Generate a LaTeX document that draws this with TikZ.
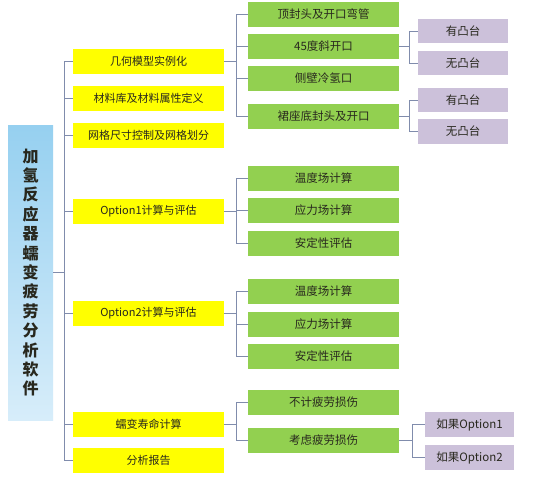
\documentclass[tikz,border=0pt]{standalone}
\usepackage{fontspec}
\setmainfont{Noto Sans CJK SC}
\usetikzlibrary{calc}
\definecolor{lnc}{RGB}{128,140,172}
\definecolor{yel}{RGB}{255,255,0}
\definecolor{grn}{RGB}{146,208,80}
\definecolor{pur}{RGB}{204,193,218}
\definecolor{txt}{RGB}{40,40,30}
\tikzset{
  ybox/.style={fill=yel, minimum width=151pt, minimum height=25pt, inner sep=0pt, font=\fontsize{11}{13}\selectfont, text=txt},
  gbox/.style={fill=grn, minimum width=151pt, minimum height=25pt, inner sep=0pt, font=\fontsize{11.5}{13}\selectfont, text=txt},
  pbox/.style={fill=pur, minimum width=90pt, minimum height=24.5pt, inner sep=0pt, font=\fontsize{11.5}{13}\selectfont, text=txt},
  conn/.style={draw=lnc, line width=0.9pt},
}
\begin{document}
\begin{tikzpicture}[x=1pt,y=-1pt]
\useasboundingbox[fill=white] (0,0) rectangle (533,480);
% root
\node[top color={rgb,255:red,150;green,208;blue,240}, bottom color={rgb,255:red,215;green,237;blue,250}, minimum width=45pt, minimum height=295pt, inner sep=0pt,
  align=center, font=\fontsize{16}{19.4}\selectfont\bfseries, text=txt] (root) at (30.5,272.5)
  {加\\氢\\反\\应\\器\\蠕\\变\\疲\\劳\\分\\析\\软\\件};
% yellow
\node[ybox] (y1) at (148.5,61) {几何模型实例化};
\node[ybox] (y2) at (148.5,98.5) {材料库及材料属性定义};
\node[ybox] (y3) at (148.5,135.5) {网格尺寸控制及网格划分};
\node[ybox] (y4) at (148.5,211.5) {Option1计算与评估};
\node[ybox] (y5) at (148.5,313) {Option2计算与评估};
\node[ybox] (y6) at (148.5,424.5) {蠕变寿命计算};
\node[ybox] (y7) at (148.5,460.5) {分析报告};
% green group 1
\node[gbox] (g11) at (323.5,14.5) {顶封头及开口弯管};
\node[gbox] (g12) at (323.5,46.5) {45度斜开口};
\node[gbox] (g13) at (323.5,78.5) {侧壁冷氢口};
\node[gbox] (g14) at (323.5,116) {裙座底封头及开口};
% purple
\node[pbox] (p1) at (463,31) {有凸台};
\node[pbox] (p2) at (463,63) {无凸台};
\node[pbox] (p3) at (463,100) {有凸台};
\node[pbox] (p4) at (463,131.5) {无凸台};
% green group 2
\node[gbox] (g21) at (323.5,178.5) {温度场计算};
\node[gbox] (g22) at (323.5,210.5) {应力场计算};
\node[gbox] (g23) at (323.5,243) {安定性评估};
% green group 3
\node[gbox] (g31) at (323.5,291.5) {温度场计算};
\node[gbox] (g32) at (323.5,324) {应力场计算};
\node[gbox] (g33) at (323.5,356) {安定性评估};
% green group 4
\node[gbox] (g41) at (323.5,402.5) {不计疲劳损伤};
\node[gbox] (g42) at (323.5,440) {考虑疲劳损伤};
% option boxes
\node[pbox, minimum width=89pt] (q1) at (469.5,424.5) {如果Option1};
\node[pbox, minimum width=89pt] (q2) at (469.5,457.5) {如果Option2};
% connectors
\coordinate (sp) at (64,0);
\coordinate (b1) at (236,0);
\coordinate (b2) at (409,0);
\coordinate (b3) at (412,0);
\draw[conn] (root.east) -- (root.east -| sp);
\draw[conn] (y1.west) -| (sp |- y7.west) -- (y7.west);
\foreach \n in {y2,y3,y4,y5,y6} \draw[conn] (\n.west) -- (\n.west -| sp);
% group 1
\draw[conn] (y1.east) -- (y1.east -| b1);
\draw[conn] (g11.west) -| (b1 |- g14.west) -- (g14.west);
\foreach \n in {g12,g13} \draw[conn] (\n.west) -- (\n.west -| b1);
\draw[conn] (g12.east) -- (g12.east -| b2);
\draw[conn] (p1.west) -| (b2 |- p2.west) -- (p2.west);
\draw[conn] (g14.east) -- (g14.east -| b2);
\draw[conn] (p3.west) -| (b2 |- p4.west) -- (p4.west);
% group 2
\draw[conn] (y4.east) -- (y4.east -| b1);
\draw[conn] (g21.west) -| (b1 |- g23.west) -- (g23.west);
\draw[conn] (g22.west) -- (g22.west -| b1);
% group 3
\draw[conn] (y5.east) -- (y5.east -| b1);
\draw[conn] (g31.west) -| (b1 |- g33.west) -- (g33.west);
\draw[conn] (g32.west) -- (g32.west -| b1);
% group 4
\draw[conn] (y6.east) -- (y6.east -| b1);
\draw[conn] (g41.west) -| (b1 |- g42.west) -- (g42.west);
\draw[conn] (g42.east) -- (g42.east -| b3);
\draw[conn] (q1.west) -| (b3 |- q2.west) -- (q2.west);
\end{tikzpicture}
\end{document}
